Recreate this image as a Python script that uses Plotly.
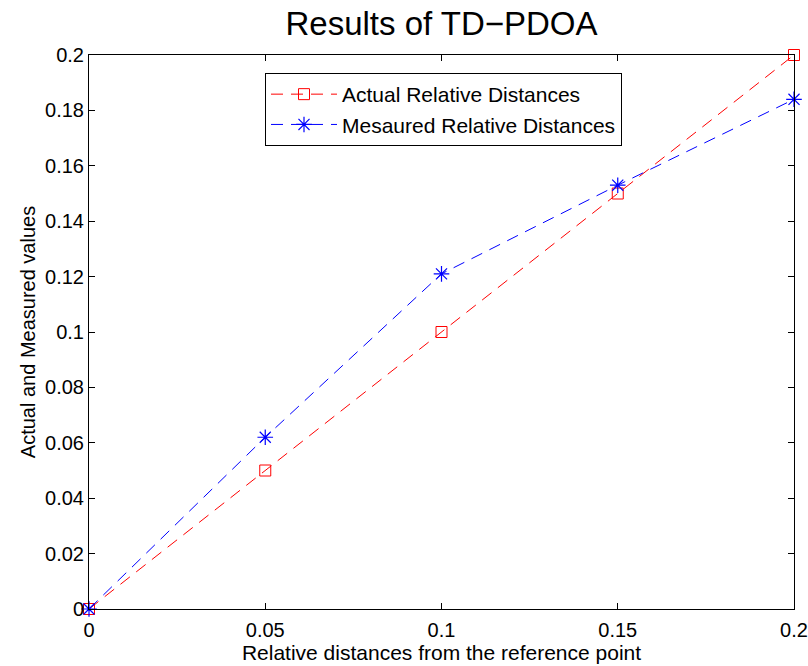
import plotly.graph_objects as go

x_vals = [0, 0.05, 0.1, 0.15, 0.2]
actual = [0, 0.05, 0.1, 0.15, 0.2]
measured = [0, 0.062, 0.121, 0.153, 0.184]
x_ticks = [0, 0.05, 0.1, 0.15, 0.2]
x_tick_text = ["0", "0.05", "0.1", "0.15", "0.2"]
y_ticks = [0, 0.02, 0.04, 0.06, 0.08, 0.1, 0.12, 0.14, 0.16, 0.18, 0.2]
y_tick_text = ["0", "0.02", "0.04", "0.06", "0.08", "0.1", "0.12", "0.14", "0.16", "0.18", "0.2"]

FONT = "Liberation Sans, Arial, Helvetica, sans-serif"

fig = go.Figure()
fig.add_trace(go.Scatter(
    x=x_vals, y=actual, mode="lines+markers", name="Actual Relative Distances",
    line=dict(color="#ff0000", width=1, dash="12px,8px"),
    marker=dict(symbol="square-open", size=11, color="#ff0000", line=dict(width=1, color="#ff0000")),
    cliponaxis=False,
))
fig.add_trace(go.Scatter(
    x=x_vals, y=measured, mode="lines+markers", name="Mesaured Relative Distances",
    line=dict(color="#0000ff", width=1, dash="12px,8px"),
    marker=dict(symbol="asterisk-open", size=13, color="#0000ff", line=dict(width=1.2, color="#0000ff")),
    cliponaxis=False,
))

fig.update_layout(
    width=808, height=666,
    margin=dict(l=89, r=14, t=55, b=57, autoexpand=False),
    paper_bgcolor="white", plot_bgcolor="white",
    font=dict(family=FONT, color="black", size=20),
    title=dict(text="Results of TD\u2212PDOA", x=0.5, xref="paper", xanchor="center",
               y=1 - 23 / 666, yref="container", yanchor="middle",
               font=dict(size=33, family=FONT, color="black")),
    showlegend=True,
    legend=dict(x=(265 - 89) / 705, y=1 - (73 - 55) / 554, xanchor="left", yanchor="top",
                bgcolor="white", bordercolor="black", borderwidth=1,
                font=dict(size=21, family=FONT, color="black"), itemwidth=66,
                tracegroupgap=0),
)
fig.update_xaxes(
    range=[0, 0.2], tickvals=x_ticks, ticktext=x_tick_text, automargin=False,
    showgrid=False, zeroline=False, showline=True, linecolor="black", linewidth=1,
    mirror="ticks", ticks="inside", ticklen=6, tickcolor="black", tickwidth=1,
    ticklabelstandoff=3,
    tickfont=dict(size=20, family=FONT, color="black"),
    title=dict(text="Relative distances from the reference point", standoff=5,
               font=dict(size=21, family=FONT, color="black")),
)
fig.update_yaxes(
    range=[0, 0.2], tickvals=y_ticks, ticktext=y_tick_text, automargin=False,
    showgrid=False, zeroline=False, showline=True, linecolor="black", linewidth=1,
    mirror="ticks", ticks="inside", ticklen=6, tickcolor="black", tickwidth=1,
    tickfont=dict(size=20, family=FONT, color="black"),
    title=dict(text="Actual and Measured values", standoff=4,
               font=dict(size=20, family=FONT, color="black")),
)

fig.write_html("out.html")
